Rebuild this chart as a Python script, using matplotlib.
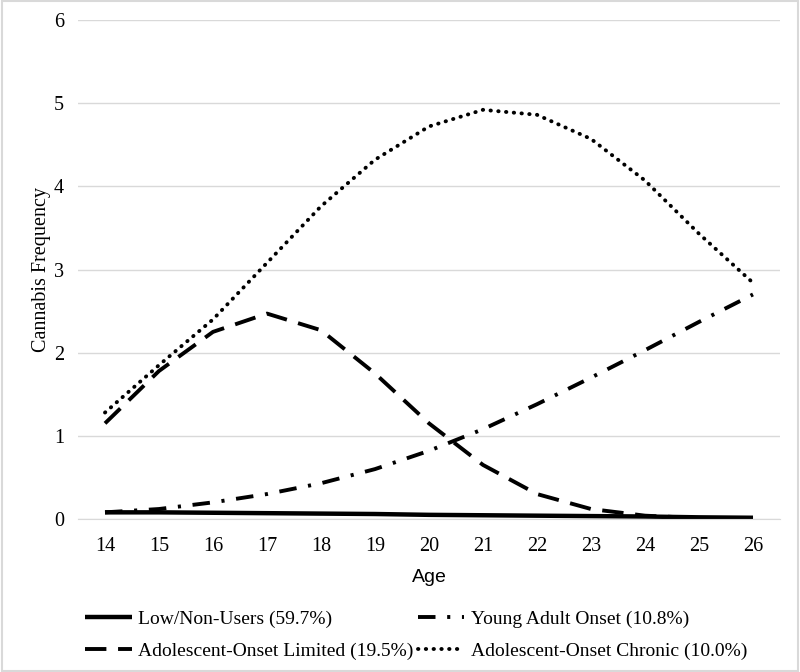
import matplotlib.pyplot as plt
from matplotlib.patches import Rectangle

# data
ages = [14, 15, 16, 17, 18, 19, 20, 21, 22, 23, 24, 25, 26]
low_non = [0.08, 0.08, 0.075, 0.07, 0.065, 0.06, 0.05, 0.045, 0.04, 0.035, 0.03, 0.02, 0.015]
young_adult = [0.08, 0.12, 0.2, 0.3, 0.43, 0.6, 0.82, 1.08, 1.38, 1.7, 2.03, 2.37, 2.7]
adol_limited = [1.15, 1.78, 2.25, 2.47, 2.27, 1.75, 1.15, 0.65, 0.3, 0.12, 0.04, 0.01, 0.0]
adol_chronic = [1.28, 1.85, 2.4, 3.08, 3.76, 4.32, 4.72, 4.92, 4.86, 4.57, 4.07, 3.43, 2.84]

labels = ["Low/Non-Users (59.7%)", "Young Adult Onset (10.8%)",
          "Adolescent-Onset Limited (19.5%)", "Adolescent-Onset Chronic (10.0%)"]

serif = "Liberation Serif"
grid_col = "#d9d9d9"

fig = plt.figure(figsize=(8, 6.72), dpi=100)
ax = fig.add_axes([78/800, 1 - 519/672, 702/800, 499/672])

ax.plot(ages, low_non, color="black", lw=3.2, solid_capstyle="butt", label=labels[0])
ax.plot(ages, young_adult, color="black", lw=2.8, linestyle=(0, (4.5, 3, 0.8, 3)), label=labels[1])
ax.plot(ages, adol_limited, color="black", lw=2.8, linestyle=(0, (5.5, 3)), label=labels[2])
ax.plot(ages, adol_chronic, color="black", lw=2.8, linestyle=(0, (0.1, 1.9)),
        dash_capstyle="round", label=labels[3])

ax.set_xlim(13.5, 26.5)
ax.set_ylim(0, 6)
ax.set_xticks(ages)
ax.set_yticks(range(0, 7))
ax.grid(axis="y", color=grid_col, lw=1)
ax.set_axisbelow(True)
for s in ["left", "right", "top"]:
    ax.spines[s].set_visible(False)
ax.spines["bottom"].set_color(grid_col)
ax.tick_params(length=0, labelsize=14.5)
ax.tick_params(axis="x", pad=13)
ax.tick_params(axis="y", pad=10)
for t in ax.get_xticklabels() + ax.get_yticklabels():
    t.set_fontfamily(serif)

ax.set_ylabel("Cannabis Frequency", fontfamily=serif, fontsize=14.5, labelpad=2)
ax.set_xlabel("Age", fontfamily="Liberation Sans", fontsize=14, labelpad=9)

h, l = ax.get_legend_handles_labels()
order = [0, 2, 1, 3]
fig.legend([h[i] for i in order], [l[i] for i in order], ncol=2, frameon=False,
           loc="upper left", bbox_to_anchor=(85/800, 1 - 610/672),
           prop={"family": serif, "size": 14}, handlelength=2.4,
           handletextpad=0.35, columnspacing=0.2, labelspacing=0.75, borderpad=0,
           borderaxespad=0)

fig.patches.append(Rectangle((0.002, 0.002), 0.996, 0.996, transform=fig.transFigure,
                             fill=False, edgecolor=grid_col, lw=1.5))

fig.savefig("out.png", dpi=100)
